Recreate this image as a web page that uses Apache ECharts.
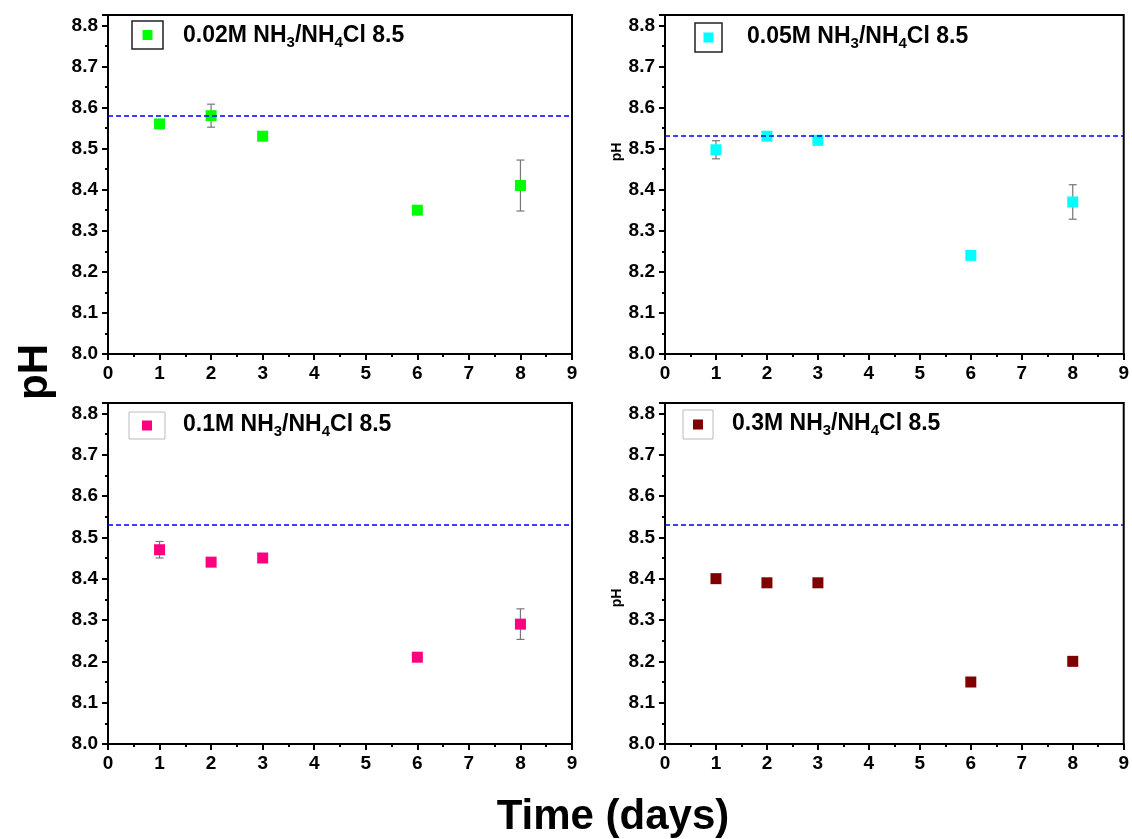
<!DOCTYPE html>
<html>
<head>
<meta charset="utf-8">
<script src="https://cdn.jsdelivr.net/npm/echarts@6/dist/echarts.min.js"></script>
<style>
html, body { margin: 0; padding: 0; background: #fff; }
#main { width: 1132px; height: 839px; }
</style>
</head>
<body>
<div id="main"></div>
<script>
// 数据
var days = [1, 2, 3, 6, 8];
var xTicks = [0, 1, 2, 3, 4, 5, 6, 7, 8, 9];
var yTicks = [8.0, 8.1, 8.2, 8.3, 8.4, 8.5, 8.6, 8.7, 8.8];

var ph002 = [8.56, 8.58, 8.53, 8.35, 8.41];
var err002 = [0.006, 0.028, 0, 0, 0.062];
var ph005 = [8.497, 8.53, 8.52, 8.24, 8.37];
var err005 = [0.022, 0.007, 0, 0, 0.042];
var ph01 = [8.47, 8.44, 8.45, 8.21, 8.29];
var err01 = [0.02, 0, 0, 0.01, 0.037];
var ph03 = [8.40, 8.39, 8.39, 8.15, 8.20];
var err03 = [0, 0, 0, 0, 0];
var refLines = [8.578, 8.532, 8.527, 8.526];

var names = ['0.02M NH{s|3}/NH{s|4}Cl 8.5', '0.05M NH{s|3}/NH{s|4}Cl 8.5',
	'0.1M NH{s|3}/NH{s|4}Cl 8.5', '0.3M NH{s|3}/NH{s|4}Cl 8.5'];
var colors = ['#00ff00', '#00ffff', '#ff0080', '#800000'];
var phList = [ph002, ph005, ph01, ph03];
var errList = [err002, err005, err01, err03];

// 布局
var grids = [
	{ left: 108, top: 15, width: 464, height: 339 },
	{ left: 665, top: 15, width: 461, height: 339 },
	{ left: 108, top: 403, width: 464, height: 341 },
	{ left: 665, top: 403, width: 461, height: 341 }
];
var legendPos = [
	{ box: [132, 21, 31, 28], dark: true, tx: 183, ty: 36 },
	{ box: [695, 23, 27, 29], dark: true, tx: 747, ty: 37 },
	{ box: [129, 412, 36, 27], dark: false, tx: 183, ty: 425 },
	{ box: [683, 410, 30, 29], dark: false, tx: 732, ty: 424 }
];

var font = 'Liberation Sans, Arial, sans-serif';

function errRender(params, api) {
	var x = api.value(0), lo = api.value(1), hi = api.value(2);
	if (hi - lo <= 0) return null;
	var p1 = api.coord([x, lo]), p2 = api.coord([x, hi]);
	var w = 4;
	var st = { stroke: '#777', lineWidth: 1.2 };
	return {
		type: 'group',
		children: [
			{ type: 'line', shape: { x1: p1[0], y1: p1[1], x2: p2[0], y2: p2[1] }, style: st },
			{ type: 'line', shape: { x1: p1[0] - w, y1: p1[1], x2: p1[0] + w, y2: p1[1] }, style: st },
			{ type: 'line', shape: { x1: p2[0] - w, y1: p2[1], x2: p2[0] + w, y2: p2[1] }, style: st }
		]
	};
}

var xAxes = [], yAxes = [], series = [], graphics = [];
for (var i = 0; i < 4; i++) {
	xAxes.push({
		gridIndex: i, type: 'value', min: 0, max: 9, interval: 1,
		axisLine: { lineStyle: { color: '#000', width: 2 } },
		axisTick: { length: 6, lineStyle: { color: '#000', width: 2 } },
		minorTick: { show: true, splitNumber: 2, length: 3, lineStyle: { color: '#000', width: 2 } },
		splitLine: { show: false },
		axisLabel: {
			color: '#000', fontSize: 19, fontWeight: 'bold', fontFamily: font, margin: 10,
			formatter: function (v) { return xTicks.indexOf(v) >= 0 ? String(v) : ''; }
		}
	});
	yAxes.push({
		gridIndex: i, type: 'value', min: 8.0, max: 8.825, interval: 0.1,
		axisLine: { lineStyle: { color: '#000', width: 2 } },
		axisTick: { length: 6, lineStyle: { color: '#000', width: 2 } },
		minorTick: { show: true, splitNumber: 2, length: 3, lineStyle: { color: '#000', width: 2 } },
		splitLine: { show: false },
		axisLabel: {
			color: '#000', fontSize: 19, fontWeight: 'bold', fontFamily: font, margin: 10,
			showMaxLabel: false,
			formatter: function (v) {
				for (var k = 0; k < yTicks.length; k++) {
					if (Math.abs(yTicks[k] - v) < 1e-6) return yTicks[k].toFixed(1);
				}
				return '';
			}
		}
	});

	var pts = [], errs = [];
	for (var j = 0; j < days.length; j++) {
		pts.push([days[j], phList[i][j]]);
		errs.push([days[j], phList[i][j] - errList[i][j], phList[i][j] + errList[i][j]]);
	}
	series.push({
		type: 'custom', xAxisIndex: i, yAxisIndex: i, z: 2,
		renderItem: errRender, encode: { x: 0, y: [1, 2] }, data: errs, silent: true
	});
	series.push({
		type: 'scatter', xAxisIndex: i, yAxisIndex: i, z: 3,
		symbol: 'rect', symbolSize: 11,
		itemStyle: { color: colors[i], opacity: 1 },
		data: pts,
		markLine: {
			silent: true, symbol: 'none', label: { show: false },
			lineStyle: { color: '#0000ff', type: [5, 3], width: 1.5, opacity: 1 },
			data: [{ yAxis: refLines[i] }]
		}
	});

	var lp = legendPos[i];
	graphics.push({
		type: 'rect', z: 10,
		shape: { x: lp.box[0], y: lp.box[1], width: lp.box[2], height: lp.box[3] },
		style: { fill: '#fff', stroke: lp.dark ? '#222' : '#bbb', lineWidth: lp.dark ? 1.5 : 1 }
	});
	graphics.push({
		type: 'rect', z: 11,
		shape: { x: lp.box[0] + lp.box[2] / 2 - 5, y: lp.box[1] + lp.box[3] / 2 - 5, width: 10, height: 10 },
		style: { fill: colors[i] }
	});
	graphics.push({
		type: 'text', z: 11, x: lp.tx, y: lp.ty,
		style: {
			text: names[i], fill: '#000',
			fontSize: 23, fontWeight: 'bold', fontFamily: font,
			verticalAlign: 'middle', lineHeight: 28,
			rich: { s: { fontSize: 15, fontWeight: 'bold', fontFamily: font, verticalAlign: 'bottom', lineHeight: 15 } }
		}
	});
}

// 标题
graphics.push({
	type: 'text', x: 35, y: 372, rotation: Math.PI / 2,
	style: { text: 'pH', fill: '#000', fontSize: 42, fontWeight: 'bold', fontFamily: font, align: 'center', verticalAlign: 'middle' }
});
graphics.push({
	type: 'text', x: 617, y: 152, rotation: Math.PI / 2,
	style: { text: 'pH', fill: '#000', fontSize: 14, fontWeight: 'bold', fontFamily: font, align: 'center', verticalAlign: 'middle' }
});
graphics.push({
	type: 'text', x: 617, y: 598, rotation: Math.PI / 2,
	style: { text: 'pH', fill: '#000', fontSize: 14, fontWeight: 'bold', fontFamily: font, align: 'center', verticalAlign: 'middle' }
});
graphics.push({
	type: 'text', x: 613, y: 817,
	style: { text: 'Time (days)', fill: '#000', fontSize: 42, fontWeight: 'bold', fontFamily: font, align: 'center', verticalAlign: 'middle' }
});

var gridOpts = [];
for (var g = 0; g < grids.length; g++) {
	gridOpts.push({
		left: grids[g].left, top: grids[g].top, width: grids[g].width, height: grids[g].height,
		show: true, borderColor: '#000', borderWidth: 2, backgroundColor: 'transparent'
	});
}

var myChart = echarts.init(document.getElementById('main'));
var option = {
	animation: false,
	backgroundColor: '#fff',
	grid: gridOpts,
	xAxis: xAxes,
	yAxis: yAxes,
	series: series,
	graphic: graphics
};
myChart.setOption(option);
</script>
</body>
</html>
